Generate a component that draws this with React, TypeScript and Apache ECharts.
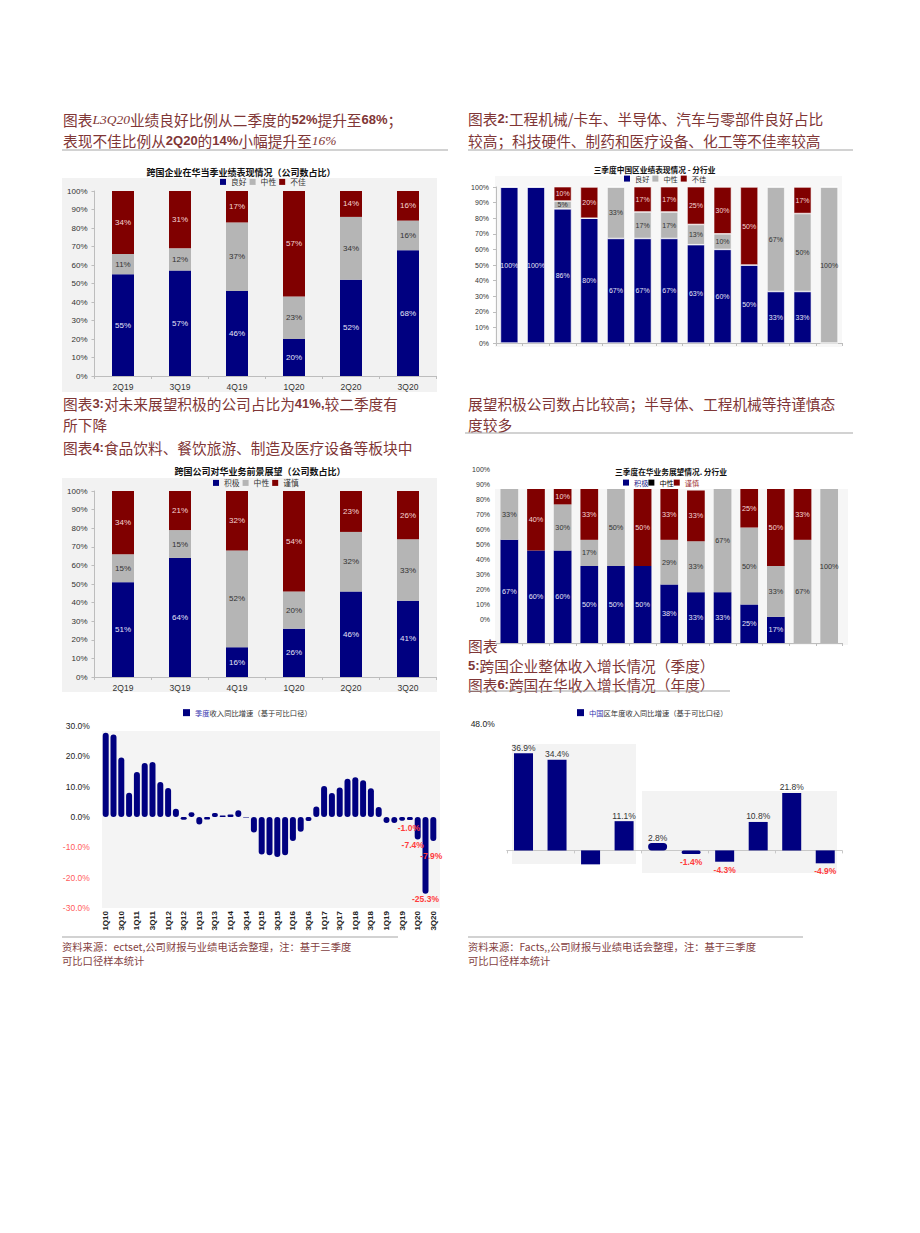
import React, { useEffect, useRef } from 'react';
import * as echarts from 'echarts';

// ---------- data ----------
const quarters = ['2Q19', '3Q19', '4Q19', '1Q20', '2Q20', '3Q20'];
const perfGood = [55, 57, 46, 20, 52, 68];
const perfNeutral = [11, 12, 37, 23, 34, 16];
const perfBad = [34, 31, 17, 57, 14, 16];

const sectors = ['行业1', '行业2', '行业3', '行业4', '行业5', '行业6', '行业7', '行业8', '行业9', '行业10', '行业11', '行业12', '行业13'];
const sectorGood = [100, 100, 86, 80, 67, 67, 67, 63, 60, 50, 33, 33, 0];
const sectorNeutral = [0, 0, 5, 0, 33, 17, 17, 13, 10, 0, 67, 50, 100];
const sectorBad = [0, 0, 10, 20, 0, 17, 17, 25, 30, 50, 0, 17, 0];

const outlookPositive = [51, 64, 16, 26, 46, 41];
const outlookNeutral = [15, 15, 52, 20, 32, 33];
const outlookCautious = [34, 21, 32, 54, 23, 26];

const sectorOutPositive = [67, 60, 60, 50, 50, 50, 38, 33, 33, 25, 17, 0, 0];
const sectorOutNeutral = [33, 0, 30, 17, 50, 0, 29, 33, 67, 50, 33, 67, 100];
const sectorOutCautious = [0, 40, 10, 33, 0, 50, 33, 33, 0, 25, 50, 33, 0];

const revQuarters = [
  '1Q10', '2Q10', '3Q10', '4Q10', '1Q11', '2Q11', '3Q11', '4Q11', '1Q12', '2Q12', '3Q12', '4Q12',
  '1Q13', '2Q13', '3Q13', '4Q13', '1Q14', '2Q14', '3Q14', '4Q14', '1Q15', '2Q15', '3Q15', '4Q15',
  '1Q16', '2Q16', '3Q16', '4Q16', '1Q17', '2Q17', '3Q17', '4Q17', '1Q18', '2Q18', '3Q18', '4Q18',
  '1Q19', '2Q19', '3Q19', '4Q19', '1Q20', '2Q20', '3Q20',
];
const revGrowth = [
  27.8, 27.2, 19.6, 8.0, 14.8, 17.8, 18.1, 11.5, 9.6, 2.7, -0.9, 1.6,
  -2.5, -0.8, 1.3, 0.5, 0.8, 2.2, -0.2, -5.1, -12.4, -12.6, -13.2, -12.6,
  -7.9, -4.9, -1.3, 3.5, 10.2, 7.9, 9.7, 12.6, 13.1, 12.1, 9.5, 3.3,
  -2.0, -2.0, -1.2, -1.0, -7.4, -25.3, -7.9,
];
const revLabelIdx = [39, 40, 41, 42];

const years = ['2010', '2011', '2012', '2013', '2014', '2015', '2016', '2017', '2018', '2019'];
const chinaGrowth = [36.9, 34.4, -5.3, 11.1, 2.8, -1.4, -4.3, 10.8, 21.8, -4.9];
const chinaHiddenLabel = [2];
const chinaPill = [4, 5];

const perfNames = ['良好', '中性', '不佳'];
const outNames = ['积极', '中性', '谨慎'];
const revName = '季度收入同比增速（基于可比口径）';
const chinaName = '中国区年度收入同比增速（基于可比口径）';

// ---------- styles ----------
const NAVY = '#000080';
const GRAY = '#b5b5b5';
const RED = '#800000';
const HEAD = '#7f3636';
const CJK = "'Noto Sans CJK SC', sans-serif";
const SANS = "'Liberation Sans', 'Noto Sans CJK SC', sans-serif";
const AXIS = '#bdbdbd';

const richH = {
  b: { fontFamily: "'Liberation Sans', sans-serif", fontWeight: 'bold', fontSize: 13, fill: HEAD },
  i: { fontFamily: "'Liberation Serif', serif", fontStyle: 'italic', fontSize: 13.5, fill: HEAD },
};

function heading(text: string, x: number, y: number) {
  return {
    type: 'text', x, y, z: 10,
    style: {
      text, fill: HEAD, fontSize: 14.7, fontFamily: CJK,
      align: 'left', verticalAlign: 'middle', textAlign: 'left', textVerticalAlign: 'middle',
      rich: richH,
    },
  };
}
function footer(text: string, x: number, y: number) {
  return {
    type: 'text', x, y, z: 10,
    style: {
      text, fill: '#843f3f', fontSize: 10.3, fontFamily: CJK,
      align: 'left', verticalAlign: 'middle', textAlign: 'left', textVerticalAlign: 'middle',
    },
  };
}
function chartTitle(text: string, x: number, y: number, size: number) {
  return {
    type: 'text', x, y, z: 10,
    style: {
      text, fill: '#111', fontSize: size, fontWeight: 'bold', fontFamily: CJK,
      align: 'center', verticalAlign: 'middle', textAlign: 'center', textVerticalAlign: 'middle',
    },
  };
}
function bg(x: number, y: number, w: number, h: number, fill: string) {
  return { type: 'rect', z: -5, silent: true, shape: { x, y, width: w, height: h }, style: { fill } };
}
function hline(x1: number, x2: number, y: number) {
  return { type: 'line', z: 10, silent: true, shape: { x1, y1: y, x2, y2: y }, style: { stroke: '#a6a6a6', lineWidth: 1.2 } };
}

function stackSeries(
  names: string[], arrays: number[][], stack: string, axisIndex: number,
  fontSize: number, barWidth: any, labelColors: string[], border: number,
) {
  const colors = [NAVY, GRAY, RED];
  return arrays.map((arr, k) => ({
    type: 'bar', name: names[k], stack, xAxisIndex: axisIndex, yAxisIndex: axisIndex,
    data: arr, barWidth,
    itemStyle: { color: colors[k], borderColor: '#ffffff', borderWidth: border },
    label: {
      show: true, position: 'inside', color: labelColors[k], fontSize, textBorderWidth: 0,
      fontFamily: "'Liberation Sans', sans-serif",
      formatter: (p: any) => (p.value > 0 ? `${p.value}%` : ''),
    },
    emphasis: { disabled: true },
  }));
}

const pctAxisLabel = (size: number) => ({
  fontSize: size, color: '#333', margin: 7, formatter: '{value}%',
});

function buildOption(): any {
  const inColors = ['#e4e4f6', '#333333', '#f4d6d6'];
  const legendBase = {
    icon: 'rect', itemWidth: 6, itemHeight: 6, itemGap: 3, orient: 'horizontal', padding: 0,
    selectedMode: false,
    textStyle: { fontSize: 7.8, color: '#333', fontFamily: CJK },
  };

  const grids = [
    { left: 94.5, top: 191, width: 342, height: 185 },
    { left: 496, top: 187, width: 346.5, height: 156 },
    { left: 94.5, top: 491, width: 342, height: 186 },
    { left: 496, top: 489, width: 346.5, height: 154 },
    { left: 496, top: 469, width: 346.5, height: 150 },
    { left: 101.8, top: 726, width: 335.4, height: 182 },
    { left: 506.75, top: 724, width: 335.25, height: 158 },
  ].map((g) => ({ ...g, containLabel: false, outerBoundsMode: 'none', show: false }));

  const catAxis = (gridIndex: number, data: string[], showLabel: boolean) => ({
    type: 'category', gridIndex, data,
    axisLine: { show: true, lineStyle: { color: AXIS } },
    axisTick: { show: true, length: 3, lineStyle: { color: AXIS } },
    axisLabel: { show: showLabel, interval: 0, fontSize: 8.5, color: '#333', margin: 7 },
    splitLine: { show: false },
  });
  const pctAxis = (gridIndex: number, size: number, show: boolean) => ({
    type: 'value', gridIndex, min: 0, max: 100, interval: 10, show,
    axisLine: { show: true, lineStyle: { color: AXIS } },
    axisTick: { show: true, length: 3, lineStyle: { color: AXIS } },
    axisLabel: pctAxisLabel(size),
    splitLine: { show: false },
  });

  const xAxis = [
    catAxis(0, quarters, true),
    catAxis(1, sectors, false),
    catAxis(2, quarters, true),
    catAxis(3, sectors, false),
    { type: 'category', gridIndex: 4, data: [''], show: false },
    {
      type: 'category', gridIndex: 5, data: revQuarters,
      axisLine: { show: false, onZero: false },
      axisTick: { show: false },
      axisLabel: { show: true, interval: 1, rotate: 90, fontSize: 8, fontWeight: 'bold', color: '#222', margin: 3 },
      splitLine: { show: false },
    },
    {
      type: 'category', gridIndex: 6, data: years,
      axisLine: { show: true, onZero: true, lineStyle: { color: '#c8c8c8' } },
      axisTick: { show: true, length: 3, lineStyle: { color: '#c8c8c8' } },
      axisLabel: { show: false },
      splitLine: { show: false },
    },
  ];

  const yAxis = [
    pctAxis(0, 8, true),
    pctAxis(1, 7, true),
    pctAxis(2, 8, true),
    pctAxis(3, 7, false),
    {
      type: 'value', gridIndex: 4, min: 0, max: 100, interval: 10,
      axisLine: { show: false }, axisTick: { show: false }, splitLine: { show: false },
      axisLabel: { ...pctAxisLabel(7), margin: 6 },
    },
    {
      type: 'value', gridIndex: 5, min: -30, max: 30, interval: 10,
      axisLine: { show: false }, axisTick: { show: false }, splitLine: { show: false },
      axisLabel: {
        fontSize: 8.5, margin: 12,
        formatter: (v: number) => `${Number(v).toFixed(1)}%`,
        color: (v: any) => (parseFloat(v) < 0 ? '#ff5c5c' : '#222'),
      },
    },
    {
      type: 'value', gridIndex: 6, min: -12, max: 48, interval: 12,
      axisLine: { show: false }, axisTick: { show: false }, splitLine: { show: false },
      axisLabel: {
        fontSize: 8.5, margin: 12, color: '#222',
        formatter: (v: number) => (v === 48 ? `${Number(v).toFixed(1)}%` : ''),
      },
    },
  ];

  const revLabelStyle = [
    { distance: 3, offset: [-1, 0] },
    { distance: 1, offset: [-5, 0] },
    { distance: 0.5, offset: [0, 0] },
    { distance: 11, offset: [-2, 0] },
  ];

  const series: any[] = [
    ...stackSeries(perfNames, [perfGood, perfNeutral, perfBad], 'c1', 0, 8, 22, inColors, 0),
    ...stackSeries(perfNames, [sectorGood, sectorNeutral, sectorBad], 'c2', 1, 7, 17.7, inColors, 0.6),
    ...stackSeries(outNames, [outlookPositive, outlookNeutral, outlookCautious], 'c3', 2, 8, 22, inColors, 0),
    ...stackSeries(outNames, [sectorOutPositive, sectorOutNeutral, sectorOutCautious], 'c4', 3, 7.3, 17.7, inColors, 0),
    {
      type: 'bar', name: revName, xAxisIndex: 5, yAxisIndex: 5, barWidth: 6,
      itemStyle: { color: NAVY, borderRadius: 3 },
      emphasis: { disabled: true },
      label: {
        show: false, position: 'bottom', color: '#ff3c3c', fontSize: 8.5, fontWeight: 'bold',
        fontFamily: "'Liberation Sans', sans-serif",
        formatter: (p: any) => `${Number(p.value).toFixed(1)}%`,
      },
      data: revGrowth.map((v, i) => {
        const k = revLabelIdx.indexOf(i);
        return k >= 0 ? { value: v, label: { show: true, ...revLabelStyle[k] } } : v;
      }),
    },
    {
      type: 'bar', name: chinaName, xAxisIndex: 6, yAxisIndex: 6, barWidth: 19,
      itemStyle: { color: NAVY },
      emphasis: { disabled: true },
      data: chinaGrowth.map((v, i) => {
        const neg = v < 0;
        const item: any = {
          value: v,
          label: {
            show: !chinaHiddenLabel.includes(i),
            position: neg ? 'bottom' : 'top',
            distance: neg ? 3.5 : 1,
            color: neg ? '#ff3c3c' : '#333',
            fontSize: 8.5,
            fontWeight: neg ? 'bold' : 'normal',
            fontFamily: "'Liberation Sans', sans-serif",
            formatter: (p: any) => `${Number(p.value).toFixed(1)}%`,
          },
        };
        if (chinaPill.includes(i)) {
          item.itemStyle = { borderRadius: 5, borderColor: NAVY, borderWidth: 3 };
        }
        return item;
      }),
    },
  ];

  const legend = [
    { ...legendBase, left: 220, top: 178, data: perfNames },
    { ...legendBase, left: 624, top: 175, textStyle: { ...legendBase.textStyle, fontSize: 7.2 }, data: perfNames },
    { ...legendBase, left: 213, top: 479, data: outNames },
    {
      ...legendBase, left: 623, top: 479, itemGap: 0,
      textStyle: { ...legendBase.textStyle, fontSize: 7.2 },
      data: [
        { name: outNames[0], itemStyle: { color: NAVY }, textStyle: { color: '#1c1c8c' } },
        { name: outNames[1], itemStyle: { color: '#000' }, textStyle: { color: '#000' } },
        { name: outNames[2], itemStyle: { color: RED }, textStyle: { color: '#a03030' } },
      ],
    },
    {
      ...legendBase, left: 183, top: 709, itemWidth: 7, itemHeight: 7, data: [revName],
      formatter: (n: string) => `{h|${n.slice(0, 2)}}{t|${n.slice(2)}}`,
      textStyle: {
        fontSize: 7.3, fontFamily: CJK, color: '#333',
        rich: { h: { color: '#3636b0', fontSize: 7.3, fontFamily: CJK }, t: { color: '#333', fontSize: 7.3, fontFamily: CJK } },
      },
    },
    {
      ...legendBase, left: 577, top: 709, itemWidth: 7, itemHeight: 7, data: [chinaName],
      formatter: (n: string) => `{h|${n.slice(0, 2)}}{t|${n.slice(2)}}`,
      textStyle: {
        fontSize: 7.3, fontFamily: CJK, color: '#333',
        rich: { h: { color: '#3636b0', fontSize: 7.3, fontFamily: CJK }, t: { color: '#333', fontSize: 7.3, fontFamily: CJK } },
      },
    },
  ];

  const graphic = [
    bg(62, 178, 375, 214, '#f2f2f2'),
    bg(495, 176, 347, 171, '#f7f7f7'),
    bg(62, 478, 375, 214, '#f2f2f2'),
    bg(495, 489, 353, 156, '#f6f6f6'),
    bg(102, 731, 338, 177, '#f4f4f4'),
    bg(512, 744, 124, 120, '#f3f3f3'),
    bg(642, 791, 195, 82, '#f3f3f3'),

    heading('图表{i|L3Q20}业绩良好比例从二季度的{b|52%}提升至{b|68%}；', 63, 119),
    heading('表现不佳比例从{b|2Q20}的{b|14%}小幅提升至{i|16%}', 63, 140),
    heading('图表{b|2:}工程机械/卡车、半导体、汽车与零部件良好占比', 468, 118),
    heading('较高；科技硬件、制药和医疗设备、化工等不佳率较高', 468, 140),
    heading('图表{b|3:}对未来展望积极的公司占比为{b|41%,}较二季度有', 63, 403),
    heading('所下降', 63, 424),
    heading('图表{b|4:}食品饮料、餐饮旅游、制造及医疗设备等板块中', 63, 447),
    heading('展望积极公司数占比较高；半导体、工程机械等持谨慎态', 468, 403),
    heading('度较多', 468, 424),
    heading('图表', 468, 645),
    heading('{b|5:}跨国企业整体收入增长情况（季度）', 468, 665),
    heading('图表{b|6:}跨国在华收入增长情况（年度）', 468, 684),

    hline(62, 448, 150),
    hline(468, 853, 150),
    hline(465, 853, 433),
    hline(468, 730, 691),
    hline(62, 398, 937),
    hline(468, 803, 937),

    chartTitle('跨国企业在华当季业绩表现情况（公司数占比）', 241, 172, 9),
    chartTitle('三季度中国区业绩表现情况 - 分行业', 654.5, 169, 7.7),
    chartTitle('跨国公司对华业务前景展望（公司数占比）', 260, 471, 9),
    chartTitle('三季度在华业务展望情况. 分行业', 671, 471, 7.7),

    footer('资料来源：ectset,公司财报与业绩电话会整理，注：基于三季度', 62, 946),
    footer('可比口径样本统计', 62, 960),
    footer('资料来源：Facts,,公司财报与业绩电话会整理，注：基于三季度', 468, 946),
    footer('可比口径样本统计', 468, 960),
  ];

  return {
    animation: false,
    backgroundColor: '#ffffff',
    textStyle: { fontFamily: SANS },
    tooltip: { show: false },
    grid: grids,
    xAxis,
    yAxis,
    legend,
    series,
    graphic: { elements: graphic },
  };
}

export default function App() {
  const ref = useRef<HTMLDivElement>(null);
  useEffect(() => {
    if (!ref.current) return;
    const chart = echarts.init(ref.current, null, { renderer: 'svg', width: 920, height: 1233 });
    chart.setOption(buildOption());
    return () => chart.dispose();
  }, []);
  return (
    <div
      ref={ref}
      style={{ position: 'absolute', left: 0, top: 0, width: 920, height: 1233, background: '#fff' }}
    />
  );
}
